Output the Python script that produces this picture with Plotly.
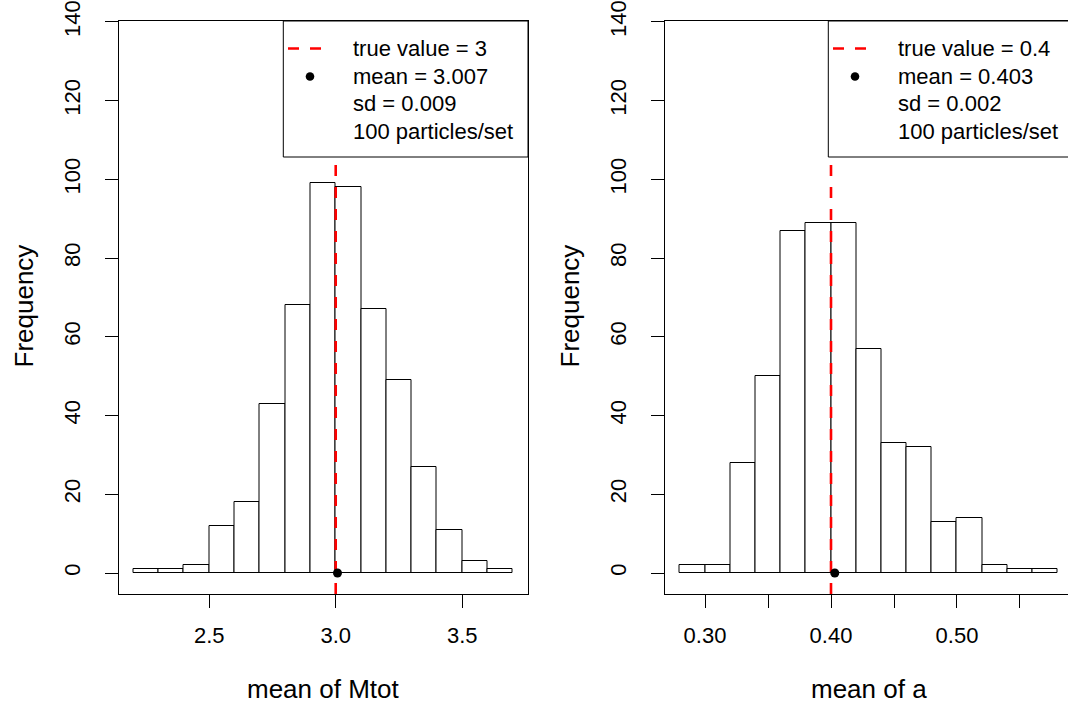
import plotly.graph_objects as go

# ---------------- data ----------------
mtot_bin_left = [2.2, 2.3, 2.4, 2.5, 2.6, 2.7, 2.8, 2.9, 3.0, 3.1, 3.2, 3.3, 3.4, 3.5, 3.6]
mtot_counts = [1, 1, 2, 12, 18, 43, 68, 99, 98, 67, 49, 27, 11, 3, 1]
mtot_bin_width = 0.1
mtot_true = 3.0
mtot_mean = 3.007
mtot_xticks = [2.5, 3.0, 3.5]
mtot_xticktext = ["2.5", "3.0", "3.5"]
mtot_legend = ["true value = 3", "mean = 3.007", "sd = 0.009", "100 particles/set"]

a_bin_left = [0.28, 0.30, 0.32, 0.34, 0.36, 0.38, 0.40, 0.42, 0.44, 0.46, 0.48, 0.50, 0.52, 0.54, 0.56]
a_counts = [2, 2, 28, 50, 87, 89, 89, 57, 33, 32, 13, 14, 2, 1, 1]
a_bin_width = 0.02
a_true = 0.4
a_mean = 0.403
a_xticks = [0.30, 0.35, 0.40, 0.45, 0.50, 0.55]
a_xticktext = ["0.30", "", "0.40", "", "0.50", ""]
a_legend = ["true value = 0.4", "mean = 0.403", "sd = 0.002", "100 particles/set"]

y_ticks = [0, 20, 40, 60, 80, 100, 120, 140]
y_title = "Frequency"
x_titles = ["mean of Mtot", "mean of a"]

# ---------------- layout helpers ----------------
W, H = 1068, 706
FONT = "Liberation Sans, Arial, Helvetica, sans-serif"
TICK_SIZE = 22
TITLE_SIZE = 26
LEG_SIZE = 22


def fx(p):
    return p / W


def fy(p):
    return 1 - p / H


Y_TOP, Y_BOT = 21, 594
y_range = [-5.336, 140.25]

panels = [
    dict(xa="x", ya="y", left=mtot_bin_left, counts=mtot_counts, bw=mtot_bin_width,
         true=mtot_true, mean=mtot_mean, xticks=mtot_xticks, xticktext=mtot_xticktext,
         legend=mtot_legend, dom=[118.5, 528.0], xrange=[2.1415, 3.760],
         plot_right=528.0, title=x_titles[0], ytitle_x=23.5, mirror_y=True),
    dict(xa="x2", ya="y2", left=a_bin_left, counts=a_counts, bw=a_bin_width,
         true=a_true, mean=a_mean, xticks=a_xticks, xticktext=a_xticktext,
         legend=a_legend, dom=[664.5, 1068.0], xrange=[0.26786, 0.5881],
         plot_right=1073.0, title=x_titles[1], ytitle_x=569.5, mirror_y=False),
]

fig = go.Figure()
shapes = []
annotations = []

for i, p in enumerate(panels):
    centers = [l + p["bw"] / 2 for l in p["left"]]
    fig.add_trace(go.Bar(
        x=centers, y=p["counts"], width=p["bw"],
        marker=dict(color="white", line=dict(color="black", width=1)),
        xaxis=p["xa"], yaxis=p["ya"], showlegend=False, hoverinfo="skip"))
    # true value line
    fig.add_trace(go.Scatter(
        x=[p["true"], p["true"]], y=[y_range[0], y_range[1]], mode="lines",
        line=dict(color="#FF0000", width=2.6, dash="11px,11px"),
        xaxis=p["xa"], yaxis=p["ya"], showlegend=False, hoverinfo="skip"))
    # mean point
    fig.add_trace(go.Scatter(
        x=[p["mean"]], y=[0], mode="markers",
        marker=dict(color="black", size=9, line=dict(width=0)),
        xaxis=p["xa"], yaxis=p["ya"], showlegend=False, hoverinfo="skip"))

    sfx = "" if i == 0 else "2"
    fig.update_layout(**{
        "xaxis" + sfx: dict(
            domain=[fx(p["dom"][0]), fx(p["dom"][1])], range=p["xrange"],
            tickvals=p["xticks"], ticktext=p["xticktext"], ticks="outside",
            ticklen=13, tickwidth=1, tickcolor="black", showline=True,
            linecolor="black", linewidth=1, mirror=True, showgrid=False,
            zeroline=False, tickfont=dict(size=TICK_SIZE, color="black", family=FONT),
            ticklabelstandoff=9, automargin=False,
            anchor="y" + sfx, fixedrange=True),
        "yaxis" + sfx: dict(
            domain=[fy(Y_BOT), fy(Y_TOP)], range=y_range, tickvals=y_ticks,
            tickangle=-90, ticks="outside", ticklen=13, tickwidth=1,
            tickcolor="black", showline=True, linecolor="black", linewidth=1,
            mirror=p["mirror_y"], showgrid=False, zeroline=False,
            tickfont=dict(size=TICK_SIZE, color="black", family=FONT),
            ticklabelstandoff=16, automargin=False,
            anchor="x" + sfx, fixedrange=True),
    })

    # legend box (R style, top-right of plot region)
    bw_px = 244.7
    bx1 = p["plot_right"]
    bx0 = bx1 - bw_px
    by0, by1 = Y_TOP, 157
    shapes.append(dict(type="rect", xref="paper", yref="paper",
                       x0=fx(bx0), x1=fx(bx1), y0=fy(by1), y1=fy(by0),
                       line=dict(color="black", width=1), fillcolor="white",
                       layer="above"))
    rows = [48.5, 76.5, 104.0, 131.5]
    shapes.append(dict(type="line", xref="paper", yref="paper",
                       x0=fx(bx0 + 4.7), x1=fx(bx0 + 39.4), y0=fy(rows[0]), y1=fy(rows[0]),
                       line=dict(color="#FF0000", width=2.6, dash="11px,11px"),
                       layer="above"))
    r = 4.3
    cx, cy = bx0 + 26.7, rows[1]
    shapes.append(dict(type="circle", xref="paper", yref="paper",
                       x0=fx(cx - r), x1=fx(cx + r), y0=fy(cy + r), y1=fy(cy - r),
                       line=dict(color="black", width=0), fillcolor="black",
                       layer="above"))
    for txt, ry in zip(p["legend"], rows):
        annotations.append(dict(text=txt, xref="paper", yref="paper",
                                x=fx(bx0 + 67.5), y=fy(ry), xanchor="left",
                                yanchor="middle", showarrow=False,
                                font=dict(size=LEG_SIZE, color="black", family=FONT)))

    # axis titles
    xmid = (p["dom"][0] + p["plot_right"]) / 2
    annotations.append(dict(text=p["title"], xref="paper", yref="paper",
                            x=fx(xmid), y=fy(689), xanchor="center", yanchor="middle",
                            showarrow=False,
                            font=dict(size=TITLE_SIZE, color="black", family=FONT)))
    annotations.append(dict(text=y_title, xref="paper", yref="paper",
                            x=fx(p["ytitle_x"]), y=fy(306),
                            xanchor="center", yanchor="middle", textangle=-90,
                            showarrow=False,
                            font=dict(size=TITLE_SIZE, color="black", family=FONT)))

fig.update_layout(
    width=W, height=H, margin=dict(l=0, r=0, t=0, b=0, pad=0, autoexpand=False),
    paper_bgcolor="white", plot_bgcolor="white", showlegend=False,
    shapes=shapes, annotations=annotations, bargap=0,
    font=dict(family=FONT, color="black"),
)

fig.write_html("out.html", config={"displayModeBar": False})
